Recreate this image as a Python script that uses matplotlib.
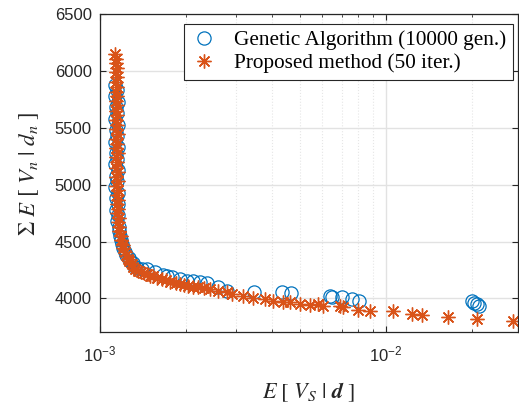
import matplotlib
matplotlib.use("Agg")
import matplotlib.pyplot as plt
from matplotlib.ticker import LogLocator, NullFormatter

plt.rcParams['font.family'] = ['Liberation Sans', 'DejaVu Sans']
plt.rcParams['mathtext.fontset'] = 'stix'

# Genetic Algorithm (10000 gen.) - blue circles
ga_x = [1.132e-3, 1.150e-3, 1.128e-3, 1.153e-3, 1.136e-3, 1.147e-3, 1.129e-3, 1.155e-3,
        1.134e-3, 1.149e-3, 1.127e-3, 1.152e-3, 1.137e-3, 1.148e-3, 1.130e-3, 1.156e-3,
        1.135e-3, 1.151e-3, 1.131e-3, 1.154e-3, 1.139e-3, 1.158e-3, 1.142e-3, 1.160e-3,
        1.150e-3, 1.165e-3, 1.166e-3, 1.178e-3, 1.182e-3, 1.198e-3, 1.206e-3, 1.226e-3,
        1.236e-3, 1.262e-3, 1.272e-3, 1.300e-3, 1.316e-3, 1.350e-3, 1.400e-3, 1.460e-3,
        1.560e-3, 1.660e-3, 1.720e-3, 1.790e-3, 1.900e-3, 2.010e-3, 2.120e-3, 2.240e-3,
        2.370e-3, 2.590e-3, 2.780e-3, 3.450e-3, 4.330e-3, 4.650e-3, 6.370e-3, 6.500e-3,
        7.020e-3, 7.600e-3, 8.050e-3, 2.000e-2, 2.040e-2, 2.080e-2, 2.120e-2]
ga_y = [5880, 5830, 5780, 5730, 5680, 5630, 5580, 5530,
        5480, 5430, 5380, 5330, 5280, 5230, 5180, 5130,
        5080, 5030, 4980, 4930, 4880, 4830, 4780, 4730,
        4680, 4630, 4590, 4550, 4510, 4475, 4440, 4410,
        4380, 4355, 4330, 4308, 4288, 4270, 4262, 4257,
        4230, 4204, 4195, 4187, 4170, 4155, 4150, 4143,
        4134, 4099, 4067, 4058, 4053, 4044, 4018, 4012,
        4008, 3994, 3979, 3975, 3962, 3948, 3935]

# Proposed method (50 iter.) - orange asterisks
pm_x = [1.130e-3, 1.140e-3, 1.133e-3, 1.146e-3, 1.136e-3, 1.148e-3, 1.134e-3, 1.145e-3,
        1.137e-3, 1.150e-3, 1.135e-3, 1.147e-3, 1.138e-3, 1.151e-3, 1.136e-3, 1.149e-3,
        1.139e-3, 1.152e-3, 1.137e-3, 1.150e-3, 1.140e-3, 1.153e-3, 1.138e-3, 1.151e-3,
        1.141e-3, 1.154e-3, 1.139e-3, 1.152e-3, 1.142e-3, 1.155e-3, 1.143e-3, 1.156e-3,
        1.146e-3, 1.158e-3, 1.150e-3, 1.162e-3, 1.156e-3, 1.170e-3, 1.168e-3, 1.185e-3,
        1.184e-3, 1.204e-3, 1.206e-3, 1.226e-3, 1.232e-3, 1.256e-3, 1.262e-3, 1.292e-3,
        1.300e-3, 1.330e-3, 1.360e-3, 1.390e-3, 1.420e-3, 1.460e-3, 1.500e-3, 1.530e-3,
        1.580e-3, 1.650e-3, 1.700e-3, 1.760e-3, 1.840e-3, 1.910e-3, 1.970e-3, 2.030e-3,
        2.120e-3, 2.200e-3, 2.310e-3, 2.430e-3, 2.590e-3, 2.780e-3, 2.900e-3, 3.160e-3,
        3.430e-3, 3.780e-3, 4.030e-3, 4.370e-3, 4.610e-3, 5.000e-3, 5.420e-3, 5.780e-3,
        6.030e-3, 6.900e-3, 7.080e-3, 7.980e-3, 8.790e-3, 1.058e-2, 1.233e-2, 1.336e-2,
        1.648e-2, 2.080e-2, 2.780e-2]
pm_y = [6150, 6110, 6070, 6030, 5990, 5950, 5900, 5860,
        5820, 5780, 5740, 5700, 5650, 5610, 5570, 5530,
        5490, 5450, 5400, 5360, 5320, 5280, 5240, 5200,
        5150, 5110, 5070, 5030, 4990, 4950, 4910, 4870,
        4830, 4790, 4750, 4710, 4670, 4630, 4590, 4550,
        4510, 4470, 4440, 4410, 4380, 4350, 4325, 4300,
        4280, 4260, 4240, 4235, 4222, 4213, 4200, 4193,
        4180, 4169, 4158, 4145, 4135, 4125, 4118, 4110,
        4100, 4096, 4088, 4082, 4067, 4053, 4038, 4018,
        4000, 3994, 3979, 3970, 3965, 3950, 3941, 3950,
        3935, 3930, 3921, 3900, 3891, 3889, 3862, 3853,
        3839, 3818, 3804]

fig = plt.figure(figsize=(5.19, 4.03), dpi=100)
ax = fig.add_axes([0.1927, 0.175, 0.8053, 0.7895])

ax.plot(ga_x, ga_y, linestyle='none', marker='o', markersize=9.5,
        markerfacecolor='none', markeredgecolor='#0072BD', markeredgewidth=0.9,
        label='Genetic Algorithm (10000 gen.)')
ax.plot(pm_x, pm_y, linestyle='none', marker=(8, 2, 0), markersize=10,
        markeredgecolor='#D95319', markeredgewidth=1.0, color='#D95319',
        label='Proposed method (50 iter.)')

ax.set_xscale('log')
ax.set_xlim(1e-3, 0.029)
ax.set_ylim(3700, 6500)
ax.set_yticks([4000, 4500, 5000, 5500, 6000, 6500])
ax.xaxis.set_minor_locator(LogLocator(base=10, subs=range(2, 10)))
ax.xaxis.set_minor_formatter(NullFormatter())

ax.grid(True, which='major', color='#e2e2e2', linewidth=1.0, linestyle='-')
ax.grid(True, which='minor', axis='x', color='#e6e6e6', linewidth=0.8, linestyle=':')
ax.set_axisbelow(True)

ax.tick_params(which='both', direction='in', top=True, right=True,
               labelsize=12, colors='#262626', labelcolor='#262626')
ax.tick_params(which='major', length=4, width=0.8)
ax.tick_params(axis='x', which='major', pad=9)
ax.tick_params(axis='y', which='major', pad=6)
ax.tick_params(which='minor', length=2.5, width=0.6)
for s in ax.spines.values():
    s.set_color('#262626')
    s.set_linewidth(0.9)

ax.set_xlabel(r'$E\ [\ V_S\ |\ \boldsymbol{d}\ ]$', fontsize=16, color='#262626', labelpad=11)
ax.set_ylabel(r'$\Sigma\ E\ [\ V_n\ |\ d_n\ ]$', fontsize=16.5, color='#262626', labelpad=10)

leg = ax.legend(loc='upper right', bbox_to_anchor=(0.988, 0.9695), borderaxespad=0,
                fancybox=False, framealpha=1, edgecolor='#262626', borderpad=0.3,
                handletextpad=0.77, labelspacing=0.15, handlelength=1.3,
                prop={'family': 'Liberation Serif', 'size': 15.3})
leg.get_frame().set_linewidth(0.8)

fig.savefig('out.png', dpi=100)
